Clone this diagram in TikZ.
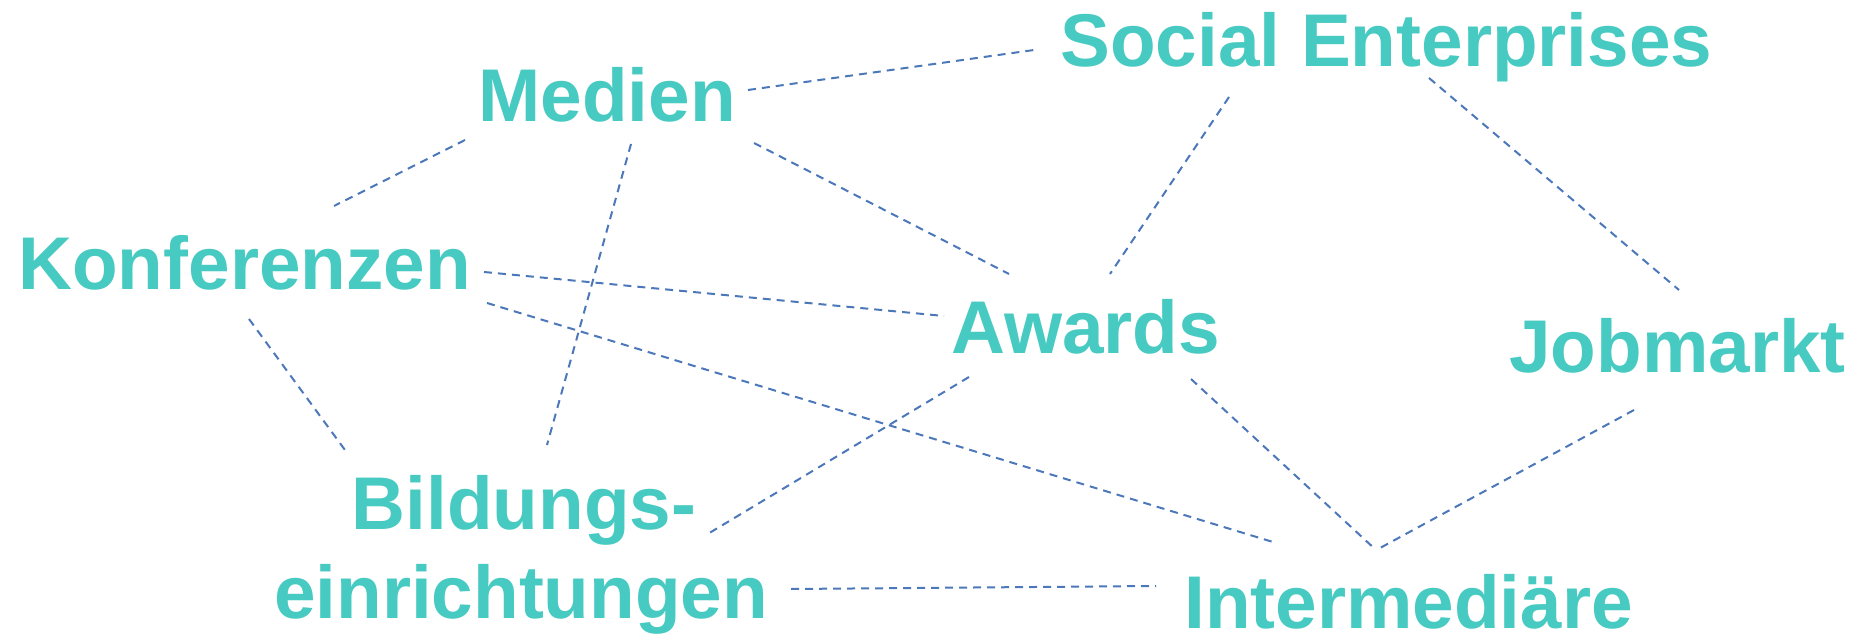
\documentclass[tikz,border=0pt]{standalone}
\usepackage{fontspec}
\setmainfont{Liberation Sans}
\definecolor{turq}{HTML}{47CAC1}
\definecolor{lnk}{HTML}{4C78BA}
\begin{document}
\begin{tikzpicture}[x=0.5pt,y=-0.5pt,
  lbl/.style={inner sep=0pt, anchor=base west, text=turq, font=\fontsize{37.35}{44}\selectfont\bfseries},
  link/.style={draw=lnk, line width=1pt, dash pattern=on 4pt off 3pt}]
\useasboundingbox[fill=white] (0,0) rectangle (1857,636);
% labels
\node[lbl] (med) at (478,122) {Medien};
\node[lbl] (soc) at (1060,67) {Social Enterprises};
\node[lbl] (kon) at (18,290) {Konferenzen};
\node[lbl] (awa) at (951,353) {Awards};
\node[lbl] (job) at (1509,372) {Jobmarkt};
\node[lbl,anchor=base] (bil) at (524,529) {Bildungs-};
\node[lbl,anchor=base] (ein) at (521,618) {einrichtungen};
\node[lbl] (int) at (1184,628) {Intermediäre};
% connector end points (gaps beside the labels)
\coordinate (medS) at (748,90);   \coordinate (socM) at (1034,50);
\coordinate (medK) at (465,140);  \coordinate (konM) at (334,206);
\coordinate (medB) at (631,144);  \coordinate (bilM) at (547,445);
\coordinate (medA) at (754,143);  \coordinate (awaM) at (1009,274);
\coordinate (konA) at (484,272);  \coordinate (awaK) at (944,316);
\coordinate (konI) at (487,303);  \coordinate (intK) at (1273,542);
\coordinate (konB) at (249,319);  \coordinate (bilK) at (345,450);
\coordinate (socA) at (1229,97);  \coordinate (awaS) at (1110,274);
\coordinate (socJ) at (1429,78);  \coordinate (jobS) at (1679,290);
\coordinate (awaB) at (969,377);  \coordinate (bilA) at (706,535);
\coordinate (awaI) at (1191,379); \coordinate (intA) at (1376,550);
\coordinate (jobI) at (1634,410); \coordinate (intJ) at (1380,548);
\coordinate (einI) at (791,589);  \coordinate (intE) at (1156,586);
% connectors
\draw[link] (medS) -- (socM);
\draw[link] (medK) -- (konM);
\draw[link] (medB) -- (bilM);
\draw[link] (medA) -- (awaM);
\draw[link] (konA) -- (awaK);
\draw[link] (konI) -- (intK);
\draw[link] (konB) -- (bilK);
\draw[link] (socA) -- (awaS);
\draw[link] (socJ) -- (jobS);
\draw[link] (awaB) -- (bilA);
\draw[link] (awaI) -- (intA);
\draw[link] (jobI) -- (intJ);
\draw[link] (einI) -- (intE);
\end{tikzpicture}
\end{document}
